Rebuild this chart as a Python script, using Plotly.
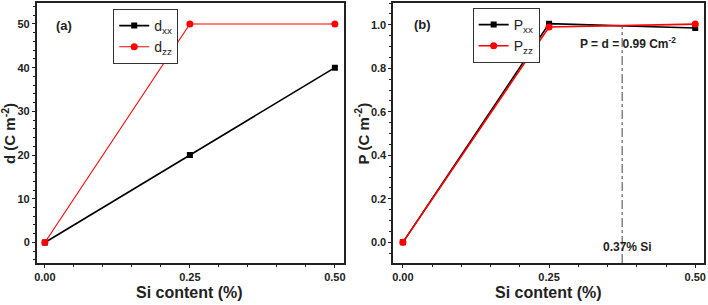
import plotly.graph_objects as go

si = [0.0, 0.25, 0.50]
d_xx = [0, 20, 40]
d_zz = [0, 50, 50]
p_xx = [0.0, 1.005, 0.985]
p_zz = [0.0, 0.99, 1.003]
si_mark = 0.375
x_ticks = [0.0, 0.25, 0.50]
x_tick_text = ["0.00", "0.25", "0.50"]

FONT = "Liberation Sans Narrow, Arial Narrow, Liberation Sans, Arial"
TXT = "#222"

fig = go.Figure()
fig.add_trace(go.Scatter(x=si, y=d_xx, mode="lines+markers", name="d<sub>xx</sub>",
                         line=dict(color="black", width=1.6),
                         marker=dict(symbol="square", size=6, color="black"),
                         xaxis="x", yaxis="y", legend="legend"))
fig.add_trace(go.Scatter(x=si, y=d_zz, mode="lines+markers", name="d<sub>zz</sub>",
                         line=dict(color="#ff0000", width=1.1),
                         marker=dict(symbol="circle", size=7, color="#ff0000"),
                         xaxis="x", yaxis="y", legend="legend"))
fig.add_trace(go.Scatter(x=si, y=p_xx, mode="lines+markers", name="P<sub>xx</sub>",
                         line=dict(color="black", width=1.6),
                         marker=dict(symbol="square", size=6, color="black"),
                         xaxis="x2", yaxis="y2", legend="legend2"))
fig.add_trace(go.Scatter(x=si, y=p_zz, mode="lines+markers", name="P<sub>zz</sub>",
                         line=dict(color="#ff0000", width=1.6),
                         marker=dict(symbol="circle", size=7, color="#ff0000"),
                         xaxis="x2", yaxis="y2", legend="legend2"))

ydom = [1 - 263 / 305, 1 - 3 / 305]
axis_common = dict(showline=True, linecolor="#222", linewidth=1.6, mirror=True,
                   ticks="outside", ticklen=3, tickwidth=1.2, tickcolor="#222",
                   showgrid=False, zeroline=False,
                   tickfont=dict(family=FONT, size=11, color=TXT, weight="bold"),
                   minor=dict(ticks="outside", ticklen=2, tickwidth=1, tickcolor="#222"))

fig.update_layout(
    width=708, height=305, margin=dict(l=0, r=0, t=0, b=0),
    paper_bgcolor="white", plot_bgcolor="white",
    font=dict(family=FONT, color=TXT),
    xaxis=dict(domain=[34 / 708, 343 / 708], range=[-0.014, 0.515], anchor="y",
               tickvals=x_ticks, ticktext=x_tick_text, **axis_common),
    yaxis=dict(domain=ydom, range=[-4.7, 54.8], anchor="x", dtick=10, **axis_common),
    xaxis2=dict(domain=[393 / 708, 706 / 708], range=[-0.0165, 0.515], anchor="y2",
                tickvals=x_ticks, ticktext=x_tick_text, **axis_common),
    yaxis2=dict(domain=ydom, range=[-0.095, 1.1], anchor="x2", dtick=0.2, tickformat=".1f",
                **axis_common),
    legend=dict(x=111 / 708, y=1 - 9 / 305, xanchor="left", yanchor="top",
                bordercolor="#333", borderwidth=1, bgcolor="white",
                font=dict(family=FONT, size=14, color=TXT),
                tracegroupgap=0, itemwidth=30),
    legend2=dict(x=473 / 708, y=1 - 8 / 305, xanchor="left", yanchor="top",
                 bordercolor="#333", borderwidth=1, bgcolor="white",
                 font=dict(family=FONT, size=14, color=TXT),
                 tracegroupgap=0, itemwidth=30),
    showlegend=True,
)

fig.add_shape(type="line", xref="x2", yref="y2", x0=si_mark, x1=si_mark, y0=-0.095, y1=0.99,
              line=dict(color="#444", width=1, dash="dashdot"))

title_font = dict(family=FONT, size=16, color=TXT)
ann_kw = dict(xref="paper", yref="paper", showarrow=False, font=title_font,
              xanchor="center", yanchor="middle")
fig.add_annotation(x=188 / 708, y=1 - 292 / 305, text="<b>Si content (%)</b>", **ann_kw)
fig.add_annotation(x=549 / 708, y=1 - 292 / 305, text="<b>Si content (%)</b>", **ann_kw)
ann_kw_y = dict(ann_kw, font=dict(family=FONT, size=15, color=TXT))
fig.add_annotation(x=5 / 708, y=1 - 133 / 305, textangle=-90,
                   text="<b>d (C m<sup>-2</sup>)</b>", **ann_kw_y)
fig.add_annotation(x=361 / 708, y=1 - 133 / 305, textangle=-90,
                   text="<b>P (C m<sup>-2</sup>)</b>", **ann_kw_y)

fig.add_annotation(x=0.033, y=49.6, xref="x", yref="y", text="<b>(a)</b>", showarrow=False,
                   font=dict(family=FONT, size=13, color=TXT))
fig.add_annotation(x=0.034, y=1.0, xref="x2", yref="y2", text="<b>(b)</b>", showarrow=False,
                   font=dict(family=FONT, size=13, color=TXT))
fig.add_annotation(x=0.385, y=0.916, xref="x2", yref="y2", text="<b>P = d = 0.99 Cm<sup>-2</sup></b>",
                   showarrow=False, font=dict(family=FONT, size=12, color=TXT))
fig.add_annotation(x=0.385, y=-0.022, xref="x2", yref="y2", text="<b>0.37% Si</b>",
                   showarrow=False, font=dict(family=FONT, size=12, color=TXT))

fig.write_html("out.html")
